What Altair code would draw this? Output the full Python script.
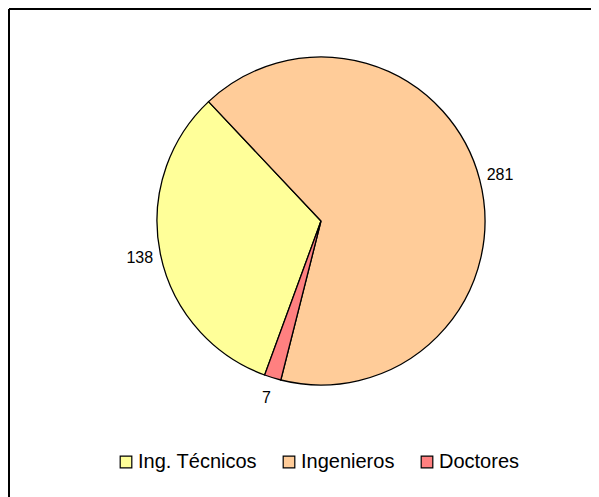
import math
import altair as alt
import pandas as pd

categories = ["Ing. Técnicos", "Ingenieros", "Doctores"]
values = [138, 281, 7]
colors = ["#FFFF99", "#FFCC99", "#FF8080"]

df = pd.DataFrame({
    "categoria": categories,
    "valor": values,
    "orden": list(range(len(categories))),
})

start = math.radians(200.1)
theta_scale = alt.Scale(range=[start, start + 2 * math.pi])

CX, CY = 312, 212

base = alt.Chart(df).encode(
    theta=alt.Theta("valor:Q", stack=True, scale=theta_scale),
    order=alt.Order("orden:Q"),
)

pie = base.mark_arc(stroke="#000000", strokeWidth=1.3, radius=164).encode(
    x=alt.value(CX),
    y=alt.value(CY),
    color=alt.Color(
        "categoria:N",
        scale=alt.Scale(domain=categories, range=colors),
        sort=categories,
        legend=alt.Legend(
            title=None,
            orient="none",
            legendX=107,
            legendY=443,
            direction="horizontal",
            symbolType="square",
            symbolSize=135,
            symbolStrokeColor="#000000",
            symbolStrokeWidth=1.2,
            labelFont="Liberation Sans",
            labelFontSize=20,
            labelColor="#000000",
            labelOffset=2,
            columnPadding=22,
            padding=0,
        ),
    ),
)

labels = base.mark_text(
    radius=185, font="Liberation Sans", fontSize=16, color="#000000"
).encode(
    x=alt.value(CX),
    y=alt.value(CY),
    text=alt.Text("valor:Q"),
)

frame_src = alt.Chart(pd.DataFrame({"k": [0]}))
frame_top = frame_src.mark_rule(color="#000000", strokeWidth=2).encode(
    x=alt.value(0), x2=alt.value(600), y=alt.value(0), y2=alt.value(0)
)
frame_left = frame_src.mark_rule(color="#000000", strokeWidth=2).encode(
    x=alt.value(0), x2=alt.value(0), y=alt.value(0), y2=alt.value(600)
)

chart = (
    alt.layer(pie, labels, frame_top, frame_left)
    .properties(
        width=582,
        height=520,
        padding={"left": 1, "top": 1, "right": 0, "bottom": 0},
        autosize=alt.AutoSizeParams(type="none"),
        background="#FFFFFF",
    )
    .configure_view(stroke="transparent", strokeWidth=0)
)

chart.save("out.html", embed_options={"renderer": "svg", "actions": False})
